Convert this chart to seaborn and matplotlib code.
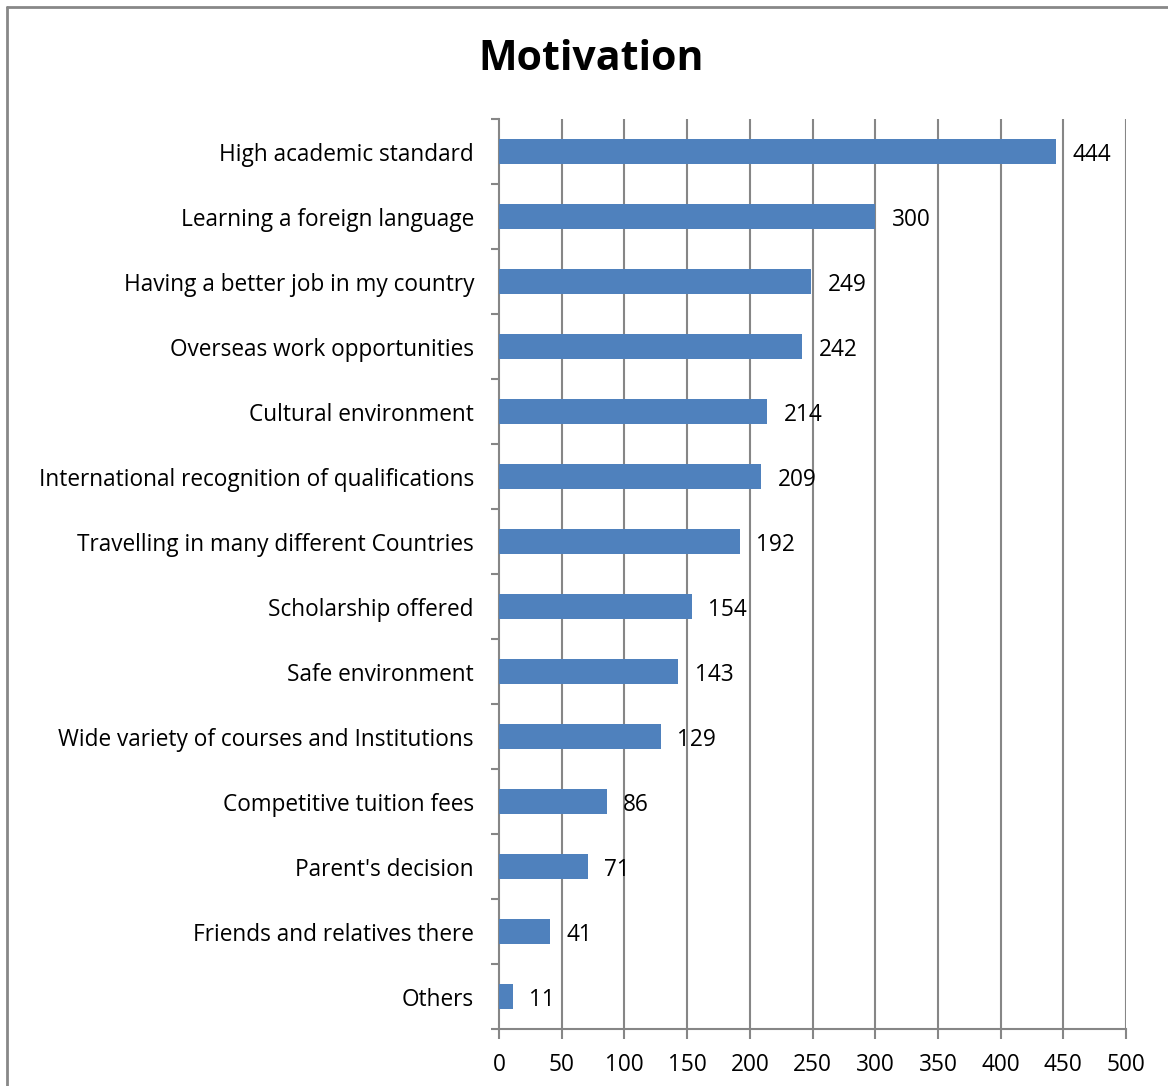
import matplotlib
matplotlib.use("Agg")
import matplotlib.pyplot as plt
from matplotlib.lines import Line2D
import seaborn as sns
import pandas as pd
import numpy as np

categories = [
    "High academic standard",
    "Learning a foreign language",
    "Having a better job in my country",
    "Overseas work opportunities",
    "Cultural environment",
    "International recognition of qualifications",
    "Travelling in many different Countries",
    "Scholarship offered",
    "Safe environment",
    "Wide variety of courses and Institutions",
    "Competitive tuition fees",
    "Parent's decision",
    "Friends and relatives there",
    "Others",
]
counts = [444, 300, 249, 242, 214, 209, 192, 154, 143, 129, 86, 71, 41, 11]
x_ticks = [0, 50, 100, 150, 200, 250, 300, 350, 400, 450, 500]

df = pd.DataFrame({"Motivation": categories, "Count": counts})

sns.set_style("white")
plt.rcParams["font.family"] = ["Open Sans", "DejaVu Sans"]
plt.rcParams["text.color"] = "black"
plt.rcParams["xtick.color"] = "black"
plt.rcParams["ytick.color"] = "black"

W, H = 1168, 1086
fig = plt.figure(figsize=(W / 100, H / 100), dpi=100)
ax = fig.add_axes([499 / W, 1 - 1029 / H, (1126 - 499) / W, (1029 - 119) / H])

grid_col = "#868686"
bar_col = "#4F81BD"
fs = 16.3

sns.barplot(data=df, x="Count", y="Motivation", orient="h", color=bar_col,
            width=0.39, saturation=1, linewidth=0, ax=ax, zorder=3)

ax.set_xlim(0, 500)
ax.set_ylim(len(categories) - 0.5, -0.5)
ax.set_xticks(x_ticks)
ax.set_xticklabels([str(v) for v in x_ticks], fontsize=fs)
ax.set_xlabel("")
ax.set_ylabel("")

# vertical gridlines
for v in x_ticks[1:]:
    ax.axvline(v, color=grid_col, lw=1.5, zorder=1)

for s in ["top", "right"]:
    ax.spines[s].set_visible(False)
for s in ["left", "bottom"]:
    ax.spines[s].set_color(grid_col)
    ax.spines[s].set_linewidth(1.5)

# category labels and boundary tick marks
ax.set_yticks(range(len(categories)))
ax.set_yticklabels(categories, fontsize=fs)
ax.set_yticks(np.arange(-0.5, len(categories), 1.0), minor=True)
ax.tick_params(axis="y", which="major", left=False, length=0, pad=18)
ax.tick_params(axis="y", which="minor", left=True, length=6, width=1.5,
               color=grid_col, direction="out")
ax.tick_params(axis="x", which="major", bottom=True, length=7, width=1.5,
               color=grid_col, labelcolor="black", direction="out", pad=10)

# value labels
for i, v in enumerate(counts):
    ax.text(v + 13, i, str(v), va="center_baseline", ha="left", fontsize=fs, zorder=4)

fig.text(591 / W, 1 - 60 / H, "Motivation", ha="center", va="center",
         fontsize=29.5, fontweight="bold")

# chart frame
fig.add_artist(Line2D([7 / W, 1], [1 - 7 / H, 1 - 7 / H], color="#888888", lw=2,
                      transform=fig.transFigure))
fig.add_artist(Line2D([7 / W, 7 / W], [0, 1 - 7 / H], color="#888888", lw=2,
                      transform=fig.transFigure))

fig.savefig("out.png", dpi=100, facecolor="white")
